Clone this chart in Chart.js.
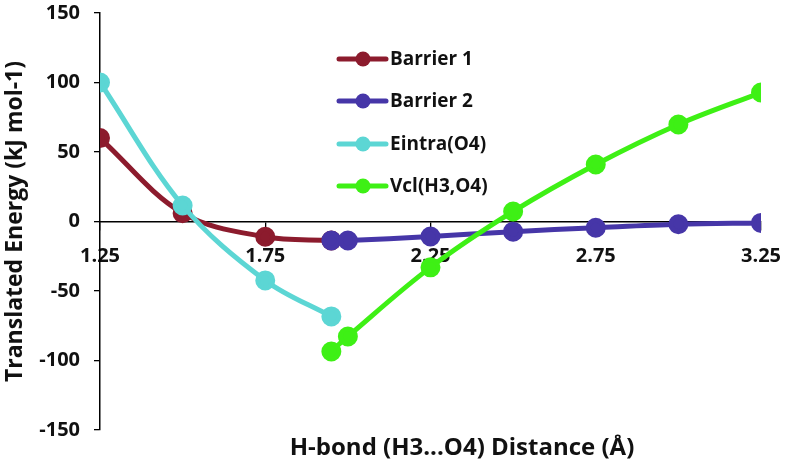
<!DOCTYPE html>
<html>
<head>
<meta charset="utf-8">
<script src="https://cdn.jsdelivr.net/npm/chart.js@4/dist/chart.umd.min.js"></script>
<style>
  html, body { margin: 0; padding: 0; background: #ffffff; }
  #wrap { width: 786px; height: 465px; }
</style>
</head>
<body>
<div id="wrap"><canvas id="energyChart" width="786" height="465"></canvas></div>
<script>
// H-bond distances (Å) and translated energies (kJ/mol)
const barrier1X = [1.25, 1.5, 1.75, 1.95];
const barrier1Y = [60, 6, -11, -13.7];

const barrier2X = [1.95, 2.0, 2.25, 2.5, 2.75, 3.0, 3.25];
const barrier2Y = [-13.7, -13.7, -10.8, -7.3, -4.5, -2, -1];

const eintraX = [1.25, 1.5, 1.75, 1.95];
const eintraY = [100, 11.5, -42.4, -68.3];

const vclX = [1.95, 2.0, 2.25, 2.5, 2.75, 3.0, 3.25];
const vclY = [-93.5, -82.7, -33, 7.2, 41, 69.8, 92.8];

const seriesNames = ['Barrier 1', 'Barrier 2', 'Eintra(O4)', 'Vcl(H3,O4)'];
const xTickLabels = ['1.25', '1.75', '2.25', '2.75', '3.25'];
const yTickLabels = [-150, -100, -50, 0, 50, 100, 150];

const FONT = '"Open Sans", "DejaVu Sans", sans-serif';

function toPoints(xs, ys) {
  return xs.map((x, i) => ({ x: x, y: ys[i] }));
}

function makeSeries(label, xs, ys, color, order) {
  return {
    label: label,
    data: toPoints(xs, ys),
    borderColor: color,
    backgroundColor: color,
    pointBackgroundColor: color,
    pointBorderColor: color,
    pointRadius: 7.5,
    pointHoverRadius: 7.5,
    borderWidth: 5,
    tension: 0.35,
    fill: false,
    order: order
  };
}

// legend drawn inside the plot, plus the x-axis title at the very bottom
const extrasPlugin = {
  id: 'extras',
  afterDraw(chart) {
    const ctx = chart.ctx;
    ctx.save();
    ctx.font = 'bold 19px ' + FONT;
    ctx.textBaseline = 'middle';
    ctx.textAlign = 'left';
    const rowsY = [59, 101, 144, 186];
    chart.data.datasets.forEach((ds, i) => {
      const y = rowsY[i];
      ctx.strokeStyle = ds.borderColor;
      ctx.lineWidth = 5;
      ctx.lineCap = 'round';
      ctx.beginPath();
      ctx.moveTo(339, y);
      ctx.lineTo(386, y);
      ctx.stroke();
      ctx.fillStyle = ds.borderColor;
      ctx.beginPath();
      ctx.arc(363, y, 7.5, 0, Math.PI * 2);
      ctx.fill();
      ctx.fillStyle = '#111111';
      ctx.fillText(ds.label, 390, y + 1);
    });

    ctx.font = 'bold 24px ' + FONT;
    ctx.textAlign = 'center';
    ctx.fillText('H-bond (H3...O4) Distance (\u00C5)', 462, 448);
    ctx.restore();
  }
};

const ctx = document.getElementById('energyChart').getContext('2d');
new Chart(ctx, {
  type: 'line',
  data: {
    datasets: [
      makeSeries(seriesNames[0], barrier1X, barrier1Y, '#8c1b2d', 4),
      makeSeries(seriesNames[1], barrier2X, barrier2Y, '#4636a8', 3),
      makeSeries(seriesNames[2], eintraX, eintraY, '#5cd6d4', 2),
      makeSeries(seriesNames[3], vclX, vclY, '#3ef015', 1)
    ]
  },
  options: {
    responsive: false,
    animation: false,
    layout: { padding: { top: 13, right: 25, bottom: 35, left: 0 } },
    plugins: {
      legend: { display: false },
      tooltip: { enabled: false }
    },
    scales: {
      x: {
        type: 'linear',
        position: { y: 0 },
        min: 1.25,
        max: 3.25,
        afterFit: (scale) => {
          scale.height = 0;
          scale.paddingTop = 0;
          scale.paddingBottom = 0;
          scale.paddingRight = 0;
        },
        afterBuildTicks: (scale) => {
          scale.ticks = xTickLabels.map(v => ({ value: parseFloat(v) }));
        },
        ticks: {
          color: '#111111',
          font: { family: FONT, size: 20, weight: 'bold', lineHeight: 1.5 },
          padding: 12,
          maxRotation: 0,
          callback: (v) => Number(v).toFixed(2)
        },
        grid: {
          drawOnChartArea: false,
          drawTicks: true,
          tickLength: 8,
          color: '#000000',
          lineWidth: 1.3
        },
        border: { display: true, color: '#000000', width: 1.5 }
      },
      y: {
        type: 'linear',
        position: 'left',
        min: -150,
        max: 150,
        afterFit: (scale) => {
          scale.width = 100;
          scale.paddingTop = 0;
          scale.paddingBottom = 0;
        },
        afterBuildTicks: (scale) => {
          scale.ticks = yTickLabels.map(v => ({ value: v }));
        },
        ticks: {
          color: '#111111',
          font: { family: FONT, size: 20, weight: 'bold' },
          padding: 14
        },
        grid: {
          drawOnChartArea: false,
          drawTicks: true,
          tickLength: 6,
          color: '#000000',
          lineWidth: 1.3
        },
        border: { display: true, color: '#000000', width: 1.5 },
        title: {
          display: true,
          text: 'Translated Energy (kJ mol-1)',
          color: '#111111',
          font: { family: FONT, size: 23, weight: 'bold' },
          padding: { top: 2, bottom: 0 }
        }
      }
    }
  },
  plugins: [extrasPlugin]
});
</script>
</body>
</html>
